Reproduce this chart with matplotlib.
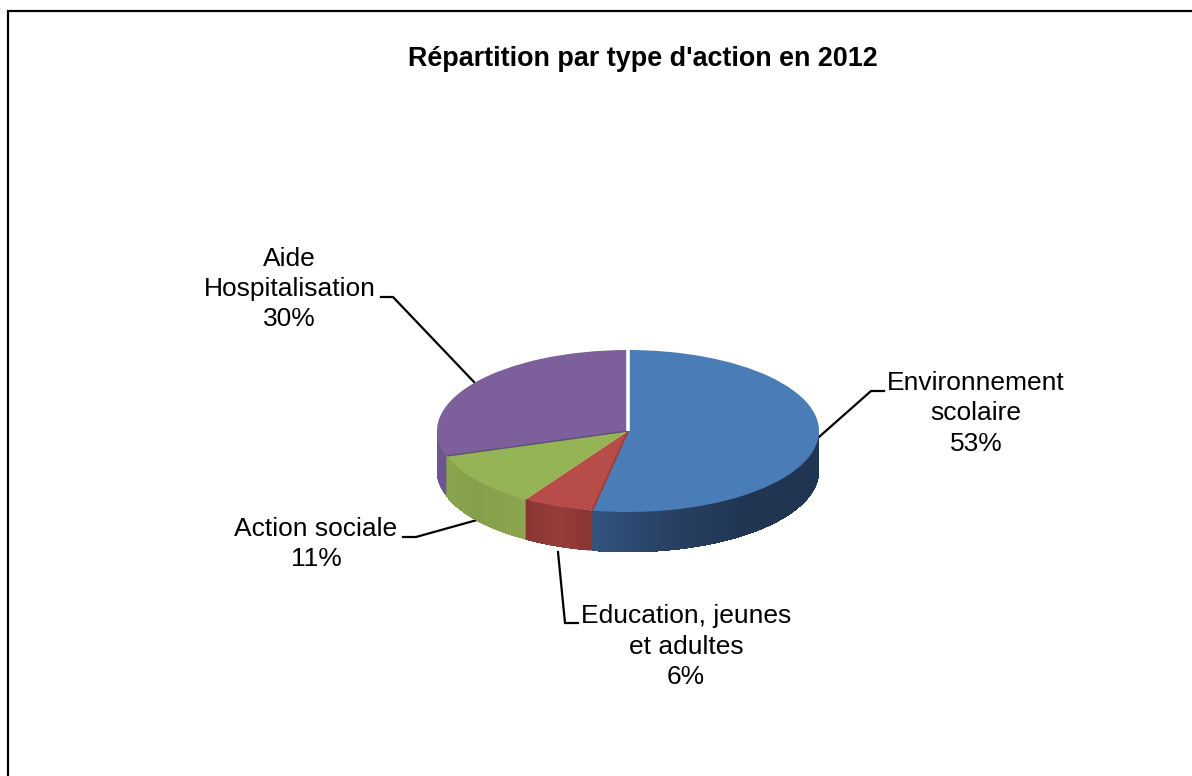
import numpy as np
import matplotlib
matplotlib.use("Agg")
import matplotlib.pyplot as plt
from matplotlib.colors import LinearSegmentedColormap
from matplotlib.transforms import Affine2D

plt.rcParams['font.family'] = ['Liberation Sans', 'DejaVu Sans']

title = "Répartition par type d'action en 2012"
categories = ["Environnement\nscolaire", "Education, jeunes\net adultes", "Action sociale", "Aide\nHospitalisation"]
values = [53, 6, 11, 30]
top_colors = ["#4a7db8", "#b84c48", "#95b455", "#7d5f9b"]
side_ramps = [["#1f3552", "#1f3552", "#1f3552", "#283f62", "#31547d"],
              ["#8a3533", "#953d3b", "#8a3634"],
              ["#8ba64e", "#869f4a", "#8ba64e"],
              ["#6d5590", "#6d5590"]]
label_pos = [(976, 413.5), (686, 646.5), (316, 544), (289.5, 289)]
leaders = [[(819, 437), (871, 391), (884, 391)],
           [(558, 552), (565, 623), (578, 623)],
           [(477, 520), (416, 537), (403, 537)],
           [(474, 382), (393, 297), (381, 297)]]

W, H = 1192, 776
CX, CY, RX, RY, DEPTH = 628, 431, 191, 81, 40

fig = plt.figure(figsize=(W / 100, H / 100), dpi=100, facecolor="white")
ax = fig.add_axes([0, 0, 1, 1])
ax.pie(values, colors=top_colors, startangle=90, counterclock=False, radius=1,
       center=(0, 0), wedgeprops=dict(linewidth=0, zorder=5))
ax.set_aspect("auto")
ax.set_xlim(-CX / RX, (W - CX) / RX)
ax.set_ylim((CY - H) / RY, CY / RY)
ax.axis("off")

# pixel-space transform (origin top-left)
px = Affine2D().scale(1, -1).translate(0, H) + Affine2D().scale(fig.dpi * fig.get_figwidth() / W,
                                                                fig.dpi * fig.get_figheight() / H)
dy = DEPTH / RY

# extruded side, built from the same values; every strip runs to the end of
# its wedge and is overpainted by the next, so no seams show between strips
fracs = np.cumsum([0] + values) / sum(values) * 2 * np.pi
for i in range(len(values)):
    a0, a1 = max(fracs[i], np.pi / 2), min(fracs[i + 1], 3 * np.pi / 2)
    if a1 <= a0:
        continue
    cmap = LinearSegmentedColormap.from_list("s", side_ramps[i])
    edges = np.linspace(a0, a1, max(int(np.degrees(a1 - a0)) * 2, 2) + 1)
    for k in range(len(edges) - 1):
        t = np.linspace(edges[k], a1, 60)
        x, y = np.sin(t), np.cos(t)
        c = cmap((k + .5) / (len(edges) - 1))
        ax.fill(np.r_[x, x[::-1]], np.r_[y, y[::-1] - dy],
                facecolor=c, edgecolor="none", lw=0, zorder=3)

# wedge boundary lines on the top face
for a, col, lw in [(fracs[1], "#9c3f3c", 1.4), (fracs[3], "#5a5270", 1.0)]:
    ax.plot([0, np.sin(a)], [0, np.cos(a)], color=col, lw=lw, zorder=6, solid_capstyle="butt")
ax.plot([0, 0], [0, 1.01], color="white", lw=2.6, zorder=7, solid_capstyle="butt")

# leader lines and labels
for cat, val, (lx, ly), pts in zip(categories, values, label_pos, leaders):
    xs, ys = zip(*pts)
    ax.plot(xs, ys, color="black", lw=1.6, transform=px, zorder=2, solid_joinstyle="miter")
    ax.text(lx, ly, f"{cat}\n{val}%", transform=px, ha="center", va="center",
            fontsize=19, color="black", linespacing=1.32)

ax.text(642.5, 59, title, transform=px, ha="center", va="center",
        fontsize=19.35, fontweight="bold", color="black")

# frame: only top and left edges are visible
ax.plot([7.5, 7.5, W], [H, 10.5, 10.5], color="black", lw=1.6, transform=px,
        zorder=8, solid_joinstyle="miter", clip_on=False)

fig.savefig("out.png", dpi=100, facecolor="white")
